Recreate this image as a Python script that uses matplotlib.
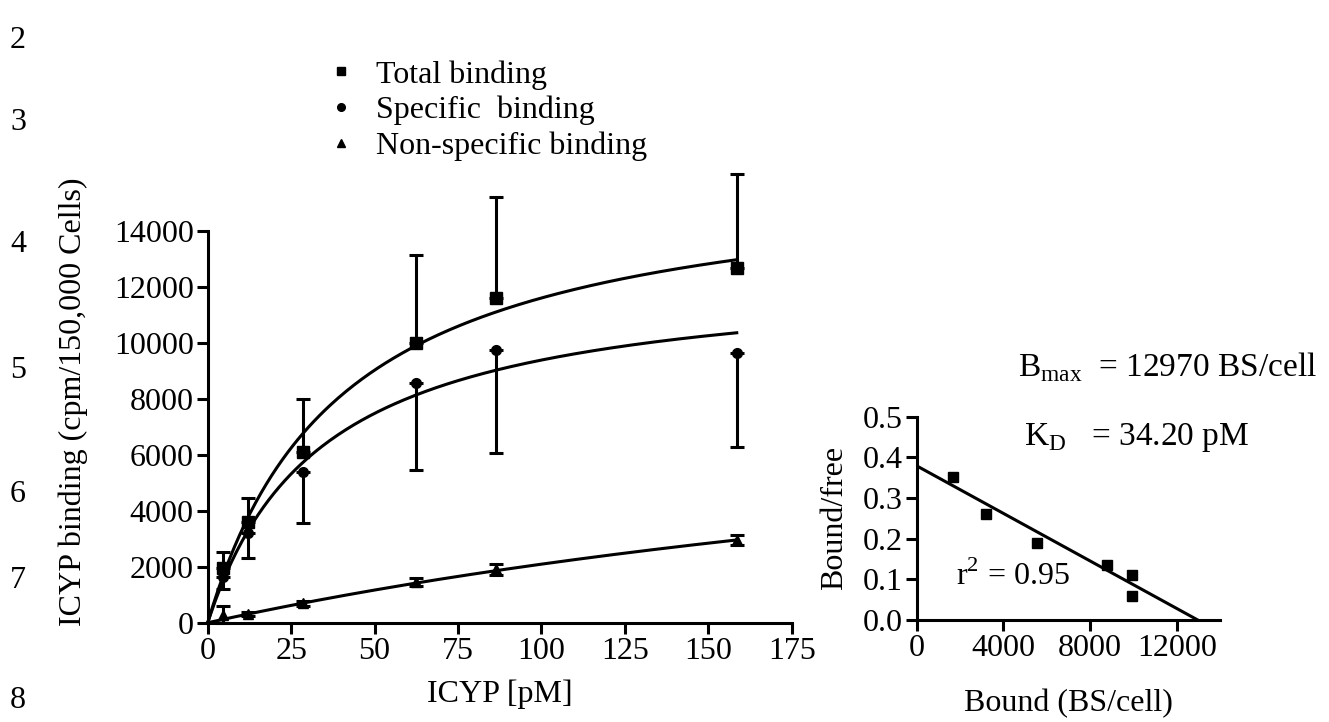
import numpy as np
import matplotlib
matplotlib.use("Agg")
import matplotlib.pyplot as plt
from matplotlib.lines import Line2D

plt.rcParams['font.family'] = ['Liberation Serif', 'DejaVu Serif']
plt.rcParams['mathtext.fontset'] = 'custom'
plt.rcParams['mathtext.rm'] = 'Liberation Serif'

# saturation binding data
conc = [4.5, 12.1, 28.5, 62.3, 86.4, 158.5]
total = [1960, 3600, 6110, 9990, 11590, 12670]
total_err = [580, 850, 1870, 3150, 3630, 3370]
specific = [1650, 3200, 5400, 8580, 9750, 9650]
specific_err = [460, 870, 1830, 3120, 3670, 3360]
nonspec = [280, 310, 690, 1470, 1910, 2960]
nonspec_err = [300, 80, 80, 140, 200, 180]

# one-site fit parameters (Bmax in cpm, Kd in pM)
fit_total = (16250, 40.0)
fit_specific = (12600, 34.2)
fit_nonspec = (10070, 381.0)
fit_xmax = 158.5

# Scatchard data
sc_bound = [1690, 3185, 5566, 8797, 9923, 9923]
sc_ratio = [0.352, 0.261, 0.189, 0.135, 0.111, 0.059]
sc_intercept = 0.379
sc_bmax = 12970

line_numbers = ["2", "3", "4", "5", "6", "7", "8"]
line_number_y = [40, 122, 245, 370, 495, 580, 700]

FS = 23
LW = 2.2

fig = plt.figure(figsize=(13.29, 7.22), dpi=100)

def style_axes(ax):
    for s in ['top', 'right']:
        ax.spines[s].set_visible(False)
    for s in ['left', 'bottom']:
        ax.spines[s].set_linewidth(LW)
    ax.tick_params(width=LW, length=8, labelsize=FS, direction='out', pad=2)

# main plot
ax = fig.add_axes([0.1563, 0.1375, 0.4395, 0.5425])
style_axes(ax)

xs = np.linspace(0, fit_xmax, 200)
for (bmax, kd) in [fit_total, fit_specific, fit_nonspec]:
    ax.plot(xs, bmax * xs / (kd + xs), color='black', lw=LW, clip_on=False)

ax.errorbar(conc, total, yerr=[np.zeros(len(total)), total_err], fmt='s', color='black',
            ms=8.5, elinewidth=LW, capsize=5, capthick=LW, clip_on=False)
ax.errorbar(conc, specific, yerr=[specific_err, np.zeros(len(specific))], fmt='o', color='black',
            ms=7, elinewidth=LW, capsize=5, capthick=LW, clip_on=False)
ax.errorbar(conc, nonspec, yerr=nonspec_err, fmt='^', color='black',
            ms=7, elinewidth=LW, capsize=5, capthick=LW, clip_on=False)

ax.set_xlim(0, 175)
ax.set_ylim(0, 14000)
ax.set_xticks(range(0, 176, 25))
ax.set_yticks(range(0, 14001, 2000))
ax.set_xlabel("ICYP [pM]", fontsize=FS, labelpad=10)
ax.set_ylabel("ICYP binding (cpm/150,000 Cells)", fontsize=FS)
ax.yaxis.set_label_coords(-0.205, 0.565)

handles = [Line2D([], [], ls='none', marker='s', color='black', ms=6),
           Line2D([], [], ls='none', marker='o', color='black', ms=5.5),
           Line2D([], [], ls='none', marker='^', color='black', ms=5.5)]
labels = ["Total binding", "Specific  binding", "Non-specific binding"]
ax.legend(handles, labels, loc='upper left', bbox_to_anchor=(0.237, 0.939),
          bbox_transform=fig.transFigure, frameon=False, fontsize=FS,
          handlelength=0.6, handletextpad=0.8, labelspacing=0.2, borderpad=0)

# Scatchard inset
ax2 = fig.add_axes([0.6898, 0.1413, 0.2282, 0.2816])
style_axes(ax2)
ax2.plot(sc_bound, sc_ratio, 's', color='black', ms=7)
ax2.plot([0, sc_bmax], [sc_intercept, 0], color='black', lw=LW)
ax2.set_xlim(0, 14000)
ax2.set_ylim(0, 0.5)
ax2.set_xticks([0, 4000, 8000, 12000])
ax2.set_yticks([0.0, 0.1, 0.2, 0.3, 0.4, 0.5])
ax2.set_yticklabels(["0.0", "0.1", "0.2", "0.3", "0.4", "0.5"])
ax2.set_xlabel("Bound (BS/cell)", fontsize=FS, labelpad=19)
ax2.set_ylabel("Bound/free", fontsize=FS, labelpad=10)

ax2.text(1800, 0.085, r"r$^2$ = 0.95", fontsize=FS)
fig.text(1018 / 1329, 1 - 367 / 722, r"B$_{\rm max}$  = 12970 BS/cell", fontsize=24, va='center')
fig.text(1024 / 1329, 1 - 438 / 722, r"K$_{\rm D}$   = 34.20 pM", fontsize=24, va='center')

for lab, yp in zip(line_numbers, line_number_y):
    fig.text(10 / 1329, 1 - yp / 722, lab, fontsize=FS, va='center')

fig.savefig("out.png", dpi=100)
